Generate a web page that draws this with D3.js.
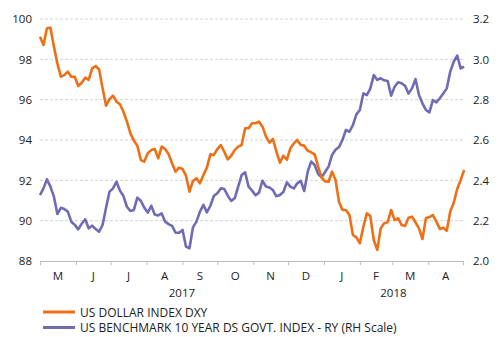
<!DOCTYPE html>
<html><head><meta charset="utf-8">
<script src="https://cdn.jsdelivr.net/npm/d3@7"></script>
<style>body{margin:0;background:#fff}text{font-family:"Open Sans","Liberation Sans",sans-serif;fill:#222}</style>
</head><body><svg id="c" width="500" height="337"></svg>
<script>
const dates = ["2017-05-01","2017-05-04","2017-05-07","2017-05-10","2017-05-13","2017-05-16","2017-05-19","2017-05-22","2017-05-25","2017-05-28","2017-05-31","2017-06-03","2017-06-06","2017-06-09","2017-06-12","2017-06-15","2017-06-18","2017-06-21","2017-06-24","2017-06-27","2017-06-30","2017-07-03","2017-07-06","2017-07-09","2017-07-12","2017-07-15","2017-07-18","2017-07-21","2017-07-24","2017-07-27","2017-07-30","2017-08-02","2017-08-05","2017-08-08","2017-08-11","2017-08-14","2017-08-17","2017-08-20","2017-08-23","2017-08-26","2017-08-29","2017-09-01","2017-09-04","2017-09-07","2017-09-10","2017-09-13","2017-09-16","2017-09-19","2017-09-22","2017-09-25","2017-09-28","2017-10-01","2017-10-04","2017-10-07","2017-10-10","2017-10-13","2017-10-16","2017-10-19","2017-10-22","2017-10-25","2017-10-28","2017-10-31","2017-11-03","2017-11-06","2017-11-09","2017-11-12","2017-11-15","2017-11-18","2017-11-21","2017-11-24","2017-11-27","2017-11-30","2017-12-03","2017-12-06","2017-12-09","2017-12-12","2017-12-15","2017-12-18","2017-12-21","2017-12-24","2017-12-27","2017-12-30","2018-01-02","2018-01-05","2018-01-08","2018-01-11","2018-01-14","2018-01-17","2018-01-20","2018-01-23","2018-01-26","2018-01-29","2018-02-01","2018-02-04","2018-02-07","2018-02-10","2018-02-13","2018-02-16","2018-02-19","2018-02-22","2018-02-25","2018-02-28","2018-03-03","2018-03-06","2018-03-09","2018-03-12","2018-03-15","2018-03-18","2018-03-21","2018-03-24","2018-03-27","2018-03-30","2018-04-02","2018-04-05","2018-04-08","2018-04-11","2018-04-14","2018-04-17","2018-04-20","2018-04-23","2018-04-26","2018-04-29","2018-05-02"];
const dxy = [99.12,98.71,99.54,99.57,98.63,97.80,97.14,97.22,97.39,97.14,97.14,96.68,96.84,97.09,96.98,97.55,97.67,97.50,96.56,95.70,96.03,96.20,95.90,95.77,95.40,94.91,94.33,93.97,93.72,93.01,92.93,93.34,93.50,93.55,93.09,93.67,93.55,93.29,92.84,92.43,92.63,92.56,92.23,91.44,91.97,92.10,91.85,92.26,92.63,93.29,93.26,93.55,93.75,93.42,93.04,93.22,93.50,93.67,93.75,94.58,94.58,94.83,94.83,94.91,94.66,94.17,93.87,94.05,93.42,92.88,93.22,93.02,93.59,93.83,94.00,93.75,93.72,93.47,93.39,93.29,92.68,92.13,91.95,91.93,92.43,92.02,90.94,90.53,90.53,90.28,89.29,89.17,88.88,89.70,90.36,90.23,89.04,88.55,89.62,89.87,89.92,90.53,90.03,90.12,89.79,89.74,90.15,90.20,89.92,89.62,89.09,90.12,90.18,90.28,89.95,89.59,89.65,89.50,90.45,90.89,91.57,92.02,92.51];
const ust10 = [2.327,2.360,2.405,2.369,2.319,2.233,2.264,2.258,2.245,2.195,2.179,2.157,2.185,2.207,2.162,2.175,2.159,2.145,2.179,2.264,2.344,2.360,2.393,2.349,2.322,2.269,2.248,2.253,2.314,2.299,2.264,2.240,2.274,2.231,2.226,2.236,2.195,2.183,2.174,2.140,2.140,2.154,2.071,2.063,2.167,2.195,2.245,2.278,2.241,2.274,2.322,2.336,2.360,2.357,2.324,2.298,2.311,2.369,2.426,2.440,2.369,2.349,2.326,2.339,2.398,2.369,2.364,2.352,2.321,2.327,2.342,2.390,2.369,2.360,2.385,2.397,2.347,2.443,2.493,2.476,2.431,2.415,2.441,2.468,2.526,2.552,2.565,2.600,2.650,2.641,2.674,2.727,2.749,2.831,2.823,2.855,2.922,2.898,2.906,2.896,2.893,2.820,2.864,2.886,2.881,2.869,2.830,2.856,2.902,2.823,2.782,2.749,2.737,2.798,2.787,2.807,2.831,2.856,2.939,2.988,3.018,2.955,2.964];
const leftTicks = [88,90,92,94,96,98,100];
const rightTicks = [2.0,2.2,2.4,2.6,2.8,3.0,3.2];
const monthLabels = ["M","J","J","A","S","O","N","D","J","F","M","A"];
const years = [{label:"2017",from:"2017-05-01",to:"2018-01-01"},{label:"2018",from:"2018-01-01",to:"2018-05-01"}];
const seriesNames = ["US DOLLAR INDEX DXY","US BENCHMARK 10 YEAR DS GOVT. INDEX - RY (RH Scale)"];
const colors = ["#EE6F14","#6F6BB4"];

const parse = d3.timeParse("%Y-%m-%d");
const svg = d3.select("#c");
const L = 40, R = 463, T = 19, B = 261;
const x = d3.scaleTime().domain([parse("2017-05-01"), parse("2018-05-01")]).range([L, R]);
const yL = d3.scaleLinear().domain([88,100]).range([B, T]);
const yR = d3.scaleLinear().domain([2.0,3.2]).range([B, T]);

// gridlines
svg.append("g").selectAll("line").data(leftTicks.filter(v=>v>88)).join("line")
  .attr("x1", L).attr("x2", R).attr("y1", d=>yL(d)).attr("y2", d=>yL(d))
  .attr("stroke", "#d4d4d4").attr("stroke-width", 1).attr("stroke-dasharray", "3,2");

// left axis labels
const gl = svg.append("g").attr("transform", `translate(${L},0)`)
  .call(d3.axisLeft(yL).tickValues(leftTicks).tickSize(0).tickPadding(8).tickFormat(d3.format("d")));
gl.select(".domain").remove();
gl.selectAll("text").style("font-size","11.5px").attr("fill","#222");

const gr = svg.append("g").attr("transform", `translate(${R},0)`)
  .call(d3.axisRight(yR).tickValues(rightTicks).tickSize(0).tickPadding(10).tickFormat(d3.format(".1f")));
gr.select(".domain").remove();
gr.selectAll("text").style("font-size","11.5px").attr("fill","#222");

// bottom axis
const months = d3.timeMonth.range(parse("2017-05-01"), parse("2018-05-02"));
const gx = svg.append("g").attr("transform", `translate(0,${B})`)
  .call(d3.axisBottom(x).tickValues(months).tickSize(4).tickFormat(""));
gx.select(".domain").attr("stroke","#bfbfbf");
gx.selectAll(".tick line").attr("stroke","#bfbfbf");

svg.append("g").selectAll("text").data(months.slice(0,12)).join("text")
  .attr("x", (d,i)=> (x(d) + x(d3.timeMonth.offset(d,1)))/2).attr("y", 280)
  .attr("text-anchor","middle").style("font-size","11.5px").text((d,i)=>monthLabels[i]);

svg.append("g").selectAll("text").data(years).join("text")
  .attr("x", d=>(x(parse(d.from))+x(parse(d.to)))/2).attr("y", 297)
  .attr("text-anchor","middle").style("font-size","11.5px").text(d=>d.label);

// lines
const pts = dates.map((d,i)=>({date:parse(d), a:dxy[i], b:ust10[i]}));
svg.append("path").datum(pts).attr("fill","none").attr("stroke",colors[1]).attr("stroke-width",2.6)
  .attr("stroke-linejoin","round").attr("d", d3.line().x(d=>x(d.date)).y(d=>yR(d.b)));
svg.append("path").datum(pts).attr("fill","none").attr("stroke",colors[0]).attr("stroke-width",2.6)
  .attr("stroke-linejoin","round").attr("d", d3.line().x(d=>x(d.date)).y(d=>yL(d.a)));

// legend
const lg = svg.append("g").selectAll("g").data(seriesNames).join("g")
  .attr("transform",(d,i)=>`translate(0,${312 + i*15.5})`);
lg.append("line").attr("x1",43).attr("x2",75).attr("y1",0).attr("y2",0)
  .attr("stroke",(d,i)=>colors[i]).attr("stroke-width",3);
lg.append("text").attr("x",80).attr("y",4.5).style("font-size","12px").text(d=>d);
</script></body></html>
